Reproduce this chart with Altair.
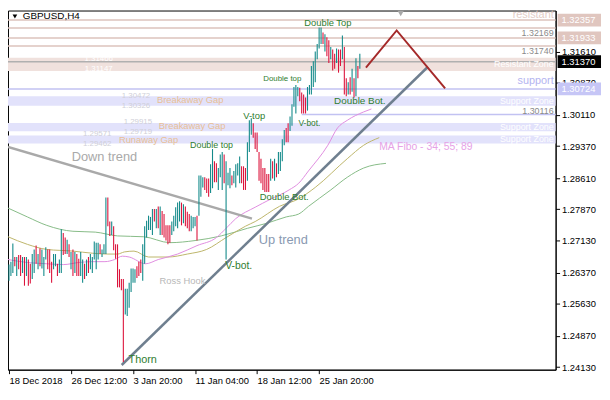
import altair as alt
import pandas as pd

W, H = 555, 364
X_DOMAIN = [-0.5, 282]
Y_DOMAIN = [1.24069, 1.32583]

TEAL, RED = "#138a8a", "#dc143c"
GREEN_TXT = "#2f7d2f"
FONT = "Liberation Sans"

# ---------------- OHLC bars (GBPUSD H4), index = bar number ----------------
highs = [
    1.2656, 1.2663, 1.2706, 1.2674, 1.2674, 1.2679, 1.2679, 1.2674, 1.2674, 1.2674,
    1.2668, 1.2658, 1.2681, 1.2692, 1.2701, 1.2681, 1.2695, 1.2692, 1.2674, 1.2697,
    1.2692, 1.2692, 1.2663, 1.2681, 1.2681, 1.2658, 1.2668, 1.2740, 1.2731, 1.2720,
    1.2715, 1.2704, 1.2686, 1.2692, 1.2686, 1.2681, 1.2670, 1.2686, 1.2668, 1.2658,
    1.2668, 1.2674, 1.2681, 1.2674, 1.2711, 1.2708, 1.2708, 1.2704, 1.2692, 1.2704,
    1.2815, 1.2815, 1.2758, 1.2758, 1.2747, 1.2704, 1.2704, 1.2645, 1.2622, 1.2622,
    1.2599, 1.2599, 1.2613, 1.2647, 1.2647, 1.2645, 1.2652, 1.2663, 1.2668, 1.2704,
    1.2747, 1.2760, 1.2772, 1.2769, 1.2788, 1.2788, 1.2788, 1.2794, 1.2794, 1.2783,
    1.2776, 1.2749, 1.2749, 1.2749, 1.2758, 1.2772, 1.2792, 1.2803, 1.2806, 1.2803,
    1.2799, 1.2794, 1.2781, 1.2776, 1.2772, 1.2769, 1.2769, 1.2772, 1.2867, 1.2867,
    1.2863, 1.2863, 1.2860, 1.2860, 1.2894, 1.2930, 1.2901, 1.2896, 1.2885, 1.2917,
    1.2923, 1.2917, 1.2901, 1.2874, 1.2885, 1.2867, 1.2878, 1.2894, 1.2896, 1.2912,
    1.2889, 1.2889, 1.2885, 1.2946, 1.2998, 1.3003, 1.2991, 1.2969, 1.2969, 1.2923,
    1.2907, 1.2885, 1.2885, 1.2871, 1.2871, 1.2907, 1.2901, 1.2907, 1.2896, 1.2923,
    1.2923, 1.2953, 1.2975, 1.2980, 1.2991, 1.3007, 1.3036, 1.3077, 1.3082, 1.3077,
    1.3075, 1.3064, 1.3059, 1.3052, 1.3077, 1.3082, 1.3127, 1.3138, 1.3161, 1.3179,
    1.3218, 1.3218, 1.3206, 1.3202, 1.3195, 1.3188, 1.3172, 1.3166, 1.3156, 1.3168,
    1.3166, 1.3166, 1.3199, 1.3172, 1.3098, 1.3088, 1.3100, 1.3120, 1.3098, 1.3145,
    1.3127, 1.3156,
]
lows = [
    1.2618, 1.2629, 1.2636, 1.2652, 1.2629, 1.2645, 1.2629, 1.2636, 1.2606, 1.2629,
    1.2606, 1.2611, 1.2622, 1.2636, 1.2658, 1.2645, 1.2652, 1.2647, 1.2629, 1.2668,
    1.2645, 1.2636, 1.2613, 1.2645, 1.2652, 1.2629, 1.2636, 1.2636, 1.2679, 1.2681,
    1.2681, 1.2674, 1.2645, 1.2629, 1.2636, 1.2629, 1.2629, 1.2629, 1.2613, 1.2622,
    1.2629, 1.2636, 1.2645, 1.2636, 1.2668, 1.2645, 1.2668, 1.2681, 1.2674, 1.2681,
    1.2681, 1.2747, 1.2724, 1.2726, 1.2690, 1.2670, 1.2602, 1.2602, 1.2595, 1.2425,
    1.2538, 1.2534, 1.2554, 1.2591, 1.2613, 1.2613, 1.2624, 1.2629, 1.2636, 1.2618,
    1.2658, 1.2720, 1.2738, 1.2738, 1.2726, 1.2758, 1.2742, 1.2742, 1.2726, 1.2726,
    1.2720, 1.2713, 1.2704, 1.2708, 1.2726, 1.2735, 1.2747, 1.2742, 1.2758, 1.2749,
    1.2754, 1.2747, 1.2742, 1.2735, 1.2735, 1.2742, 1.2747, 1.2713, 1.2772, 1.2817,
    1.2839, 1.2833, 1.2826, 1.2817, 1.2826, 1.2837, 1.2851, 1.2851, 1.2833, 1.2863,
    1.2833, 1.2849, 1.2668, 1.2844, 1.2837, 1.2844, 1.2849, 1.2839, 1.2867, 1.2849,
    1.2849, 1.2833, 1.2833, 1.2855, 1.2923, 1.2964, 1.2957, 1.2930, 1.2923, 1.2855,
    1.2849, 1.2833, 1.2828, 1.2828, 1.2828, 1.2855, 1.2860, 1.2855, 1.2863, 1.2871,
    1.2878, 1.2901, 1.2939, 1.2946, 1.2946, 1.2973, 1.2985, 1.3030, 1.3014, 1.3055,
    1.3043, 1.3014, 1.3014, 1.3014, 1.3021, 1.3059, 1.3059, 1.3077, 1.3088, 1.3143,
    1.3168, 1.3179, 1.3179, 1.3161, 1.3150, 1.3134, 1.3143, 1.3116, 1.3120, 1.3134,
    1.3111, 1.3127, 1.3143, 1.3059, 1.3055, 1.3059, 1.3059, 1.3066, 1.3052, 1.3055,
    1.3098, 1.3120,
]
dirs = ("uuududdudu" "dduududuuu" "ddduuduudd" "udududduud" "uduuuuuduu"
        "uddudddddd" "uuuuuudddu" "uuuuududud" "dddduuuuud" "uddduuuduu"
        "uddduudduu" "uduuuduuuu" "ddduuudddd" "dddddududu" "uuudduuuuu"
        "dddduuuuuu" "uududduddu" "dduddududu" "du")

# ---------------- moving averages (MA Fibo 34 / 55 / 89) ----------------
ma34_k = [-0.5, 9.5, 19.5, 28, 36, 43, 49.5, 54.5, 58.5, 62, 70.5, 77, 87, 97, 107,
          112, 117, 127, 134.5, 144.5, 149.5, 154.5, 164.5, 169.5, 174.5, 183, 187]
ma34_p = [1.2668, 1.2661, 1.2658, 1.2656, 1.2661, 1.2663, 1.2663, 1.2668, 1.2676, 1.2674,
          1.2658, 1.2668, 1.2681, 1.2701, 1.2720, 1.2742, 1.2765, 1.2792, 1.2810, 1.2833,
          1.2849, 1.2878, 1.2939, 1.2980, 1.2998, 1.3018, 1.3025]
ma55_k = [-0.5, 9.5, 19.5, 33, 43, 51, 56, 59.5, 64.5, 72, 82, 92, 102, 112, 122, 127,
          139.5, 149.5, 158, 174.5, 183, 191]
ma55_p = [1.2722, 1.2704, 1.2692, 1.2688, 1.2683, 1.2681, 1.2681, 1.2686, 1.2688, 1.2674,
          1.2674, 1.2681, 1.2692, 1.2720, 1.2747, 1.2758, 1.2794, 1.2812, 1.2839, 1.2907,
          1.2939, 1.2957]
ma89_k = [-0.5, 9.5, 19.5, 33, 44.5, 56, 69.5, 83, 96, 109.5, 123, 133, 143, 149.5,
          154.5, 166, 174.5, 183, 194.5]
ma89_p = [1.2790, 1.2769, 1.2749, 1.2735, 1.2733, 1.2724, 1.2722, 1.2708, 1.2713, 1.2724,
          1.2742, 1.2754, 1.2769, 1.2776, 1.2794, 1.2833, 1.2863, 1.2885, 1.2896]

# ---------------- drawn objects ----------------
down_trend_k, down_trend_p = [-0.5, 125.35], [1.2935, 1.2765]
up_trend_k, up_trend_p = [58.15, 216.15], [1.2418, 1.3125]
zigzag_k, zigzag_p = [184.15, 200, 225], [1.3123, 1.3211, 1.3074]

res_lines = [1.32357, 1.32169, 1.31933, 1.31740]
res_zone = (1.31147, 1.31466)
bid_price = 1.31370
sup_line = 1.30724
sup_ray_start, sup_ray_price = 151, 1.30116
sup_zones = [(1.30326, 1.30552), (1.29719, 1.29915), (1.29430, 1.29620)]

x_tick_k = [0, 32, 64, 96, 128, 160]
x_tick_lbl = ["18 Dec 2018", "26 Dec 12:00", "3 Jan 20:00", "11 Jan 04:00",
              "18 Jan 12:00", "25 Jan 20:00"]
y_ticks = [1.24130, 1.24870, 1.25630, 1.26370, 1.27130, 1.27870, 1.28610,
           1.29370, 1.30110, 1.30870, 1.31610]

TAN, LGRAY, GRAY, PINK = "#e8bf96", "#cfcfd8", "#8a8a8a", "#e6a2e6"
labels_center = [
    ("Double Top", 164.5, 1.3229, GREEN_TXT, 9.5),
    ("Double top", 141, 1.3095, GREEN_TXT, 8),
    ("Double Bot.", 181, 1.3043, GREEN_TXT, 10),
    ("V-bot.", 155, 1.2991, GREEN_TXT, 8.5),
    ("V-top", 126.5, 1.3009, GREEN_TXT, 9.5),
    ("Double top", 104.5, 1.2939, GREEN_TXT, 9),
    ("Double Bot.", 142, 1.2815, GREEN_TXT, 9.5),
    ("V-bot.", 118.5, 1.2652, GREEN_TXT, 10.5),
    ("Thorn", 69, 1.2430, GREEN_TXT, 11),
    ("Ross Hook", 89.5, 1.2618, "#b8b8b8", 9.5),
    ("Up trend", 141.5, 1.2715, "#8a9ab2", 13),
    ("Down trend", 49.25, 1.2912, "#a9a9a9", 13),
    ("Breakaway Gap", 93.5, 1.3045, TAN, 9.5),
    ("Breakaway Gap", 94.5, 1.2984, TAN, 9.5),
    ("Runaway Gap", 72, 1.2952, TAN, 9.5),
    ("1.31466", 46.3, 1.31435, "#ffffff", 8),
    ("1.31147", 46.3, 1.31195, "#ffffff", 8),
    ("1.30472", 65.5, 1.30560, LGRAY, 8),
    ("1.30326", 65.5, 1.30325, LGRAY, 8),
    ("1.29915", 66.5, 1.29935, LGRAY, 8),
    ("1.29719", 66.5, 1.29700, LGRAY, 8),
    ("1.29571", 45.5, 1.29645, LGRAY, 8),
    ("1.29462", 45.5, 1.29410, LGRAY, 8),
]
labels_left = [("MA Fibo - 34; 55; 89", 191, 1.2935, PINK, 10.5)]
labels_right = [
    ("resistant", 281, 1.3247, "#e3cdc7", 11),
    ("1.32169", 281, 1.3206, GRAY, 9),
    ("1.31740", 281, 1.3163, GRAY, 9),
    ("Resistant Zone", 281, 1.3132, "#ffffff", 9),
    ("support", 281, 1.3091, "#b4b4f0", 11),
    ("Support Zone", 281, 1.3044, "#ffffff", 9),
    ("1.30116", 281, 1.3021, GRAY, 9),
    ("Support Zone", 281, 1.2982, "#ffffff", 9),
    ("Support Zone", 281, 1.2954, "#ffffff", 9),
]
price_boxes = [
    (1.32357, "1.32357", "#e0c6bf", "#ffffff"),
    (1.31933, "1.31933", "#e0c6bf", "#ffffff"),
    (1.31370, "1.31370", "#000000", "#ffffff"),
    (1.30724, "1.30724", "#c6c6f6", "#ffffff"),
]

# ---------------- build chart ----------------
xs = alt.Scale(domain=X_DOMAIN, nice=False, zero=False)
ys = alt.Scale(domain=Y_DOMAIN, nice=False, zero=False)

label_expr = "".join(f"datum.value == {k} ? '{l}' : " for k, l in zip(x_tick_k, x_tick_lbl)) + "''"
x_axis = alt.Axis(values=x_tick_k, labelExpr=label_expr, orient="bottom", tickSize=4,
                  labelAlign="left", labelPadding=2, labelFont=FONT, labelFontSize=9.5,
                  labelColor="black", domainColor="black", tickColor="black", grid=False,
                  title=None, labelOverlap=False, labelFlush=False)
y_axis = alt.Axis(values=y_ticks, format=".5f", orient="right", tickSize=4, labelPadding=2,
                  labelFont=FONT, labelFontSize=9.5, labelColor="black", domainColor="black",
                  tickColor="black", grid=False, title=None, labelOverlap=False)


def XQ(f):
    return alt.X(f, type="quantitative", scale=xs, axis=x_axis)


def YQ(f):
    return alt.Y(f, type="quantitative", scale=ys, axis=y_axis)


bars = pd.DataFrame({"k": list(range(len(highs))), "high": highs, "low": lows,
                     "dir": list(dirs)[:len(highs)]})
bars["c"] = bars["dir"].map({"u": TEAL, "d": RED})

zones = pd.DataFrame(
    [{"a": res_zone[0], "b": res_zone[1], "c": "#f0e1dd"}]
    + [{"a": a, "b": b, "c": "#e2e2fb"} for a, b in sup_zones]
)
zone_layer = alt.Chart(zones).mark_rect().encode(
    x=alt.value(0), x2=alt.value(W), y=YQ("a"), y2="b", color=alt.Color("c:N", scale=None))

hlines = pd.DataFrame(
    [{"p": p, "c": "#dcc3bc"} for p in res_lines]
    + [{"p": sup_line, "c": "#c2c2f2"}, {"p": bid_price, "c": "#b0b0b0"}]
)
hline_layer = alt.Chart(hlines).mark_rule(strokeWidth=1.5).encode(
    y=YQ("p"), color=alt.Color("c:N", scale=None))

ray = pd.DataFrame({"k0": [sup_ray_start], "k1": [X_DOMAIN[1]], "p": [sup_ray_price]})
ray_layer = alt.Chart(ray).mark_rule(strokeWidth=1.5, color="#c2c2f2").encode(
    x=XQ("k0"), x2="k1", y=YQ("p"))


def line_layer(ks, ps, color, width, interp="linear"):
    df = pd.DataFrame({"k": ks, "p": ps})
    return alt.Chart(df).mark_line(color=color, strokeWidth=width, interpolate=interp).encode(
        x=XQ("k"), y=YQ("p"))


ma89_layer = line_layer(ma89_k, ma89_p, "#86bb86", 1, "monotone")
ma55_layer = line_layer(ma55_k, ma55_p, "#bdb56a", 1, "monotone")
ma34_layer = line_layer(ma34_k, ma34_p, "#e08ce0", 1, "monotone")

bar_layer = alt.Chart(bars).mark_rule(strokeWidth=1.1).encode(
    x=XQ("k"), y=YQ("low"), y2="high:Q", color=alt.Color("c:N", scale=None))

down_layer = line_layer(down_trend_k, down_trend_p, "#a9a9a9", 2.5)
up_layer = line_layer(up_trend_k, up_trend_p, "#6f7f8f", 2.5)
zig_layer = line_layer(zigzag_k, zigzag_p, "#a52a2a", 2)


def text_layer(rows, align):
    df = pd.DataFrame(rows, columns=["t", "k", "p", "c", "s"])
    return alt.Chart(df).mark_text(align=align, baseline="middle", font=FONT).encode(
        x=XQ("k"), y=YQ("p"), text="t:N",
        color=alt.Color("c:N", scale=None), size=alt.Size("s:Q", scale=None))


txt_c = text_layer(labels_center, "center")
txt_l = text_layer(labels_left, "left")
txt_r = text_layer(labels_right, "right")

boxes = pd.DataFrame(price_boxes, columns=["p", "t", "bg", "fg"])
box_layer = alt.Chart(boxes).mark_rule(strokeWidth=13, strokeCap="butt").encode(
    y=YQ("p"), x=alt.value(W + 2), x2=alt.value(W + 46), color=alt.Color("bg:N", scale=None))
box_text = alt.Chart(boxes).mark_text(align="left", baseline="middle", font=FONT,
                                      fontSize=9.5).encode(
    y=YQ("p"), x=alt.value(W + 6), text="t:N", color=alt.Color("fg:N", scale=None))

title_df = pd.DataFrame({"t": ["GBPUSD,H4"]})
title_text = alt.Chart(title_df).mark_text(align="left", baseline="middle", font=FONT,
                                           fontSize=10, color="black").encode(
    x=alt.value(15), y=alt.value(6), text="t:N")
title_tri = alt.Chart(title_df).mark_point(shape="triangle-down", filled=True, size=22,
                                           color="black", opacity=1).encode(
    x=alt.value(7), y=alt.value(6))
shift_tri = alt.Chart(title_df).mark_point(shape="triangle-down", filled=True, size=40,
                                           color="#a8a8a8", opacity=1).encode(
    x=alt.value(398), y=alt.value(3))

chart = alt.layer(
    zone_layer, hline_layer, ray_layer, ma89_layer, ma55_layer, ma34_layer,
    down_layer, up_layer, zig_layer, bar_layer, txt_c, txt_l, txt_r,
    box_layer, box_text, title_tri, title_text, shift_tri,
).properties(
    width=W, height=H,
    autosize=alt.AutoSizeParams(type="none"),
    padding={"left": 0, "top": 0, "right": 47, "bottom": 16},
    background="white",
).configure_view(stroke="black", strokeWidth=1)

chart.save("out.html", embed_options={"renderer": "svg", "actions": False})
